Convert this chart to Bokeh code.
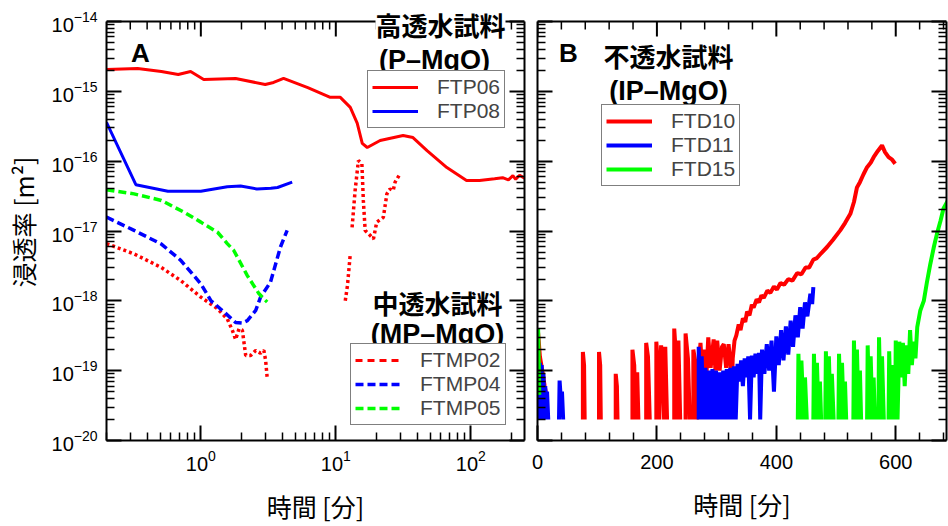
from bokeh.plotting import figure
from bokeh.models import (FixedTicker, LogAxis, Label, Legend, LegendItem,
                          CustomJSTickFormatter, Range1d, Span)
from bokeh.layouts import row
from bokeh.embed import file_html
from bokeh.resources import INLINE

nan = float("nan")
F = 2e-20  # lower limit where the noisy records bottom out

# ---------------- Panel A: time [min] (log) vs permeability [m2] ----------------
FTP06 = [(0.2, 2.05e-15), (0.34, 2.12e-15), (0.51, 1.92e-15), (0.68, 1.74e-15), (0.84, 1.92e-15),
         (1.05, 1.48e-15), (1.81, 1.53e-15), (3.0, 1.25e-15), (3.46, 1.34e-15), (4.1, 1.53e-15),
         (6.2, 1.13e-15), (9.1, 8.2e-16), (10.8, 8.2e-16), (12.8, 5.9e-16), (14.4, 3.5e-16),
         (15.7, 1.8e-16), (17.1, 1.57e-16), (21.3, 1.98e-16), (31.5, 2.33e-16), (37.3, 2.18e-16),
         (47.4, 1.42e-16), (66.5, 8.1e-17), (93, 5.3e-17), (116, 5.3e-17), (150, 5.6e-17),
         (172, 5.8e-17), (190, 5.4e-17), (205, 6.2e-17), (215, 5.5e-17), (230, 6.3e-17), (250, 5.7e-17)]
FTP08 = [(0.2, 3.6e-16), (0.33, 4.6e-17), (0.57, 3.7e-17), (1.0, 3.7e-17), (1.57, 4.3e-17),
         (1.97, 4.4e-17), (2.6, 4.0e-17), (3.3, 4.1e-17), (3.7, 4.2e-17), (4.75, 5.0e-17)]
FTMP02 = [(0.2, 6.6e-18), (0.32, 4.7e-18), (0.51, 3.0e-18), (0.71, 1.95e-18), (1.0, 1.13e-18),
          (1.33, 7.7e-19), (1.57, 5.5e-19), (1.71, 3.8e-19), (1.81, 2.8e-19), (1.92, 4.0e-19),
          (2.03, 3.8e-19), (2.15, 1.65e-19), (2.34, 1.65e-19), (2.55, 1.95e-19), (2.77, 1.78e-19),
          (2.93, 1.95e-19), (3.02, 1.4e-19), (3.1, 8.0e-20), (nan, nan),
          (11.75, 1.0e-18), (12.2, 1.66e-18), (12.8, 4.7e-18), (nan, nan),
          (13.2, 1.13e-17), (13.9, 3.8e-17), (14.7, 1.02e-16), (15.6, 9.2e-17), (16.0, 2.7e-17),
          (16.5, 1.02e-17), (18.0, 8.6e-18), (19.0, 7.7e-18), (20.1, 1.34e-17), (22.5, 1.57e-17),
          (23.9, 3.4e-17), (25.2, 4.0e-17), (26.6, 3.8e-17), (27.5, 5.0e-17), (29.9, 6.6e-17)]
FTMP04 = [(0.2, 1.58e-17), (0.32, 1.02e-17), (0.51, 6.5e-18), (0.71, 3.8e-18), (1.0, 1.75e-18),
          (1.19, 1.0e-18), (1.49, 6.9e-19), (1.81, 4.9e-19), (2.03, 4.8e-19), (2.21, 5.2e-19),
          (2.55, 7.3e-19), (2.77, 1.13e-18), (3.28, 1.85e-18), (3.89, 5.9e-18), (4.36, 1.02e-17)]
FTMP05 = [(0.2, 3.9e-17), (0.32, 3.4e-17), (0.51, 2.74e-17), (0.75, 1.86e-17), (1.0, 1.34e-17),
          (1.33, 9.6e-18), (1.57, 6.6e-18), (1.75, 5.3e-18), (2.21, 2.3e-18), (2.69, 1.27e-18),
          (3.1, 9.6e-19)]

# ---------------- Panel B: time [min] (linear) vs permeability [m2] ----------------
FTD10 = [(1, 3.5e-19), (4, 1.6e-19), (8, 1.0e-19), (12, 6e-20), (16, 4e-20), (nan, nan),
         (76, F), (76, 1.85e-19), (78, 1.2e-19), (79, F), (nan, nan),
         (103, F), (103, 1.85e-19), (105, 1.2e-19), (106, F), (nan, nan),
         (131, F), (131, 9e-20), (133, 6e-20), (134, F), (nan, nan),
         (159, F), (159, 2.0e-19), (162, 1.2e-19), (164, F), (nan, nan),
         (167, F), (167, 9.5e-20), (169, F), (nan, nan),
         (182, F), (182, 2.5e-19), (185, 1.6e-19), (188, F), (nan, nan),
         (199, F), (199, 2.6e-19), (202, 1.1e-19), (204, F), (207, 2.3e-19), (210, 1.2e-19),
         (212, F), (214, 2.2e-19), (217, F), (nan, nan),
         (229, F), (229, 4.0e-19), (232, 1.6e-19), (234, F), (236, 2.7e-19), (239, F), (nan, nan),
         (248, F), (248, 3.4e-19), (252, 1.5e-19), (255, F), (nan, nan),
         (261, F), (261, 2.0e-19), (264, 1.4e-19), (267, F), (270, 1.2e-19), (273, 2.5e-19),
         (276, 9e-20), (280, 2.0e-19), (283, 9e-20), (286, 3.0e-19), (290, 1.1e-19), (295, 2.8e-19),
         (298, 1.0e-19), (301, 2.7e-19), (305, 1.0e-19), (309, 2.2e-19), (312, 2.4e-19),
         (316, 1.1e-19), (320, 2.4e-19), (323, 1.3e-19), (325, 4.7e-20), (327, 1.5e-19),
         (330, 2.7e-19), (333, 3.2e-19), (337, 4.6e-19), (340, 3.8e-19), (344, 5.6e-19),
         (348, 5.0e-19), (351, 7.0e-19), (355, 6.2e-19), (359, 8.8e-19), (362, 8.0e-19),
         (367, 1.05e-18), (371, 9.5e-19), (375, 1.2e-18), (379, 1.1e-18), (385, 1.4e-18),
         (390, 1.3e-18), (396, 1.6e-18), (401, 1.45e-18), (407, 1.8e-18), (413, 1.7e-18),
         (420, 2.05e-18), (427, 1.95e-18), (435, 2.5e-18), (442, 2.4e-18), (449, 3.0e-18),
         (455, 3.0e-18), (462, 3.9e-18), (468, 4.1e-18), (475, 4.8e-18), (485, 5.9e-18),
         (495, 7.5e-18), (507, 1.02e-17), (515, 1.3e-17), (524, 1.76e-17), (530, 2.6e-17),
         (535, 4.2e-17), (540, 5.0e-17), (546, 6.5e-17), (552, 8.2e-17), (558, 9.5e-17),
         (563, 1.14e-16), (570, 1.4e-16), (577, 1.68e-16), (582, 1.35e-16), (588, 1.14e-16),
         (594, 1.05e-16), (599, 9.2e-17)]
FTD11 = [(1, F), (1, 1.0e-19), (3, F), (4, 1.3e-19), (6, F), (7, 1.2e-19), (9, F), (10, 9e-20),
         (12, F), (13, 6e-20), (15, F), (16, 5e-20), (18, F), (nan, nan),
         (36, F), (37, 7.2e-20), (39, 4e-20), (41, 5e-20), (43, F), (nan, nan),
         (270, F), (270, 2.2e-19), (273, F), (275, 1.6e-19), (278, F), (281, 1.1e-19), (284, F),
         (287, 1.0e-19), (290, F), (293, 1.05e-19), (296, F), (299, 1.0e-19), (302, F),
         (305, 9.5e-20), (308, F), (311, 1.0e-19), (314, F), (317, 1.05e-19), (320, F),
         (323, 1.1e-19), (326, F), (329, 1.15e-19), (332, F), (335, 1.25e-19), (338, 7e-20),
         (341, 1.4e-19), (344, 6e-20), (347, 1.5e-19), (350, 8e-20), (353, 1.6e-19), (356, F),
         (359, 1.65e-19), (362, 8e-20), (365, 1.75e-19), (368, 9e-20), (371, 1.8e-19), (373, F),
         (376, 2.0e-19), (380, 9e-20), (384, 2.4e-19), (388, 1.0e-19), (392, 2.7e-19), (396, 5e-20),
         (400, 3.1e-19), (404, 1.2e-19), (408, 3.8e-19), (412, 1.4e-19), (416, 4.3e-19),
         (420, 1.7e-19), (424, 5.2e-19), (428, 2.2e-19), (432, 6.2e-19), (436, 3.0e-19),
         (440, 8.1e-19), (444, 4.0e-19), (448, 9.5e-19), (452, 6.0e-19), (457, 1.26e-18),
         (460, 9e-19), (462, 1.57e-18)]
FTD15 = [(1, 4e-19), (2, 1.5e-19), (3, 4.5e-20), (nan, nan),
         (436, F), (437, 1.75e-19), (440, F), (442, 1.4e-19), (446, F), (448, 8e-20), (451, F), (nan, nan),
         (462, F), (463, 1.75e-19), (466, F), (468, 1.3e-19), (471, F), (473, 7e-20), (475, F), (nan, nan),
         (482, F), (483, 1.9e-19), (486, F), (488, 1.6e-19), (491, F), (493, 9e-20), (496, F), (nan, nan),
         (504, F), (505, 1.75e-19), (508, F), (510, 1.3e-19), (513, F), (515, 7e-20), (517, F), (nan, nan),
         (529, F), (530, 2.7e-19), (533, F), (535, 2.0e-19), (538, F), (540, 1.0e-19), (542, F), (nan, nan),
         (552, F), (553, 2.3e-19), (556, F), (558, 1.6e-19), (561, F), (563, 8e-20), (565, F), (nan, nan),
         (571, F), (572, 3.0e-19), (575, F), (577, 1.6e-19), (580, F), (nan, nan),
         (588, F), (589, 1.9e-19), (592, F), (594, 1.2e-19), (597, F), (nan, nan),
         (599, F), (600, 2.7e-19), (603, F), (606, 2.6e-19), (609, 8e-20), (612, 2.5e-19),
         (615, 6e-20), (618, 2.3e-19), (621, 9e-20), (624, 3.8e-19), (627, 1.2e-19), (630, 2.6e-19),
         (633, 1.5e-19), (636, 4.2e-19), (641, 7.2e-19), (647, 1.0e-18), (652, 1.8e-18),
         (658, 3.4e-18), (664, 6.0e-18), (669, 9.1e-18), (675, 1.4e-17), (680, 2.1e-17),
         (690, 3.0e-17)]

X_RANGE_A = (0.2, 250)
X_RANGE_B = (0, 685)
Y_RANGE = (1e-20, 1e-14)

RED, BLUE, GREEN = "#ff0000", "#0000ff", "#00ff00"
LATIN = "Liberation Sans"
CJK = "Noto Sans CJK JP"

# ---------------- layout geometry (pixels) ----------------
H = 526
TOP, BOTTOM = 21, 86              # box top (y of 1e-14) / bottom border
FRAME_H = H - TOP - BOTTOM
DECADE_PX = FRAME_H / 6.0         # pixels per decade on the y axes
F_TOP = 3                         # frames reach higher so titles can straddle the box edge
Y_TOP = 10 ** (-14 + (TOP - F_TOP) / DECADE_PX)


def xy(pairs):
    return [p[0] for p in pairs], [p[1] for p in pairs]


# ticks
y_major = [10.0 ** e for e in range(-20, -13)]
y_minor = [m * 10.0 ** e for e in range(-20, -14) for m in range(2, 10)]
xa_major = [1, 10, 100]
xa_minor = [m * 10.0 ** e for e in range(-1, 3) for m in range(2, 10)
            if X_RANGE_A[0] <= m * 10.0 ** e <= X_RANGE_A[1]]
xb_major = [0, 200, 400, 600]
xb_minor = [v for v in range(40, 700, 40) if v % 200]

MAJOR_LEN, MINOR_LEN = 15, 8


def style_axis(ax, labels=True, standoff=9):
    ax.axis_line_width = 2
    ax.axis_line_color = "black"
    ax.major_tick_in = MAJOR_LEN
    ax.major_tick_out = 0
    ax.minor_tick_in = MINOR_LEN
    ax.minor_tick_out = 0
    ax.major_tick_line_width = 2
    ax.minor_tick_line_width = 1.5
    ax.major_tick_line_color = "black"
    ax.minor_tick_line_color = "black"
    ax.major_label_text_font = LATIN
    ax.major_label_text_font_size = "20px"
    ax.major_label_text_color = "black"
    ax.major_label_standoff = standoff
    ax.axis_label_text_font = CJK
    ax.axis_label_text_font_size = "25px"
    ax.axis_label_text_font_style = "normal"
    ax.axis_label_text_color = "black"
    if not labels:
        ax.formatter = CustomJSTickFormatter(code="return ''")
        ax.major_label_standoff = 0
        ax.major_label_text_font_size = "1px"


def make_fig(width, xtype, xr, mb_left, mb_right):
    p = figure(width=width, height=H, x_axis_type=xtype, y_axis_type="log",
               x_range=Range1d(*xr), y_range=Range1d(Y_RANGE[0], Y_TOP),
               output_backend="svg", toolbar_location=None,
               min_border_left=mb_left, min_border_right=mb_right,
               min_border_top=F_TOP, min_border_bottom=BOTTOM)
    p.title.visible = False
    p.title_location = None
    p.xgrid.visible = False
    p.ygrid.visible = False
    p.outline_line_color = None
    p.background_fill_color = "white"
    p.border_fill_color = "white"
    return p


def box_top(p, major, minor):
    """Top edge of the box at 1e-14 with inward tick marks at the x ticks."""
    p.add_layout(Span(location=Y_RANGE[1], dimension="width", line_color="black", line_width=2))
    maj_len = 10 ** (-MAJOR_LEN / DECADE_PX)
    min_len = 10 ** (-MINOR_LEN / DECADE_PX)
    p.segment(x0=major, x1=major, y0=[Y_RANGE[1]] * len(major),
              y1=[Y_RANGE[1] * maj_len] * len(major), line_color="black", line_width=2)
    p.segment(x0=minor, x1=minor, y0=[Y_RANGE[1]] * len(minor),
              y1=[Y_RANGE[1] * min_len] * len(minor), line_color="black", line_width=1.5)


def add_label(p, x, y, text, font, size, bg=False):
    lab = Label(x=x, y=y, x_units="screen", y_units="screen", text=text,
                text_font=font, text_font_size=size, text_font_style="bold",
                text_align="center", text_baseline="middle", text_color="black")
    if bg:
        lab.background_fill_color = "white"
        lab.background_fill_alpha = 1.0
    p.add_layout(lab)


def make_legend(items, loc):
    return Legend(items=items, location=loc, orientation="vertical",
                  border_line_color="black", border_line_width=1.5,
                  background_fill_color="white", background_fill_alpha=1.0,
                  label_text_font=LATIN, label_text_font_size="21px",
                  glyph_width=46, glyph_height=24, label_height=24,
                  label_standoff=19, padding=4, spacing=0, margin=0)


y_tick = FixedTicker(ticks=y_major, minor_ticks=y_minor)

# ---------------- Panel A ----------------
p1 = make_fig(530, "log", X_RANGE_A, 106, 6)
xa_tick = FixedTicker(ticks=xa_major, minor_ticks=xa_minor)
p1.xaxis[0].ticker = xa_tick
p1.yaxis[0].ticker = y_tick
p1.yaxis[0].bounds = Y_RANGE
style_axis(p1.xaxis[0], standoff=9)
style_axis(p1.yaxis[0], standoff=9)
p1.xaxis[0].axis_label = "時間 [分]"
p1.xaxis[0].axis_label_standoff = 14
p1.yaxis[0].axis_label = "浸透率 [m²]"
p1.yaxis[0].axis_label_standoff = 8
right1 = LogAxis(ticker=y_tick, bounds=Y_RANGE)
style_axis(right1, labels=False)
p1.add_layout(right1, "right")
box_top(p1, xa_major, xa_minor)

x, y = xy(FTP06)
r06 = p1.line(x, y, line_color=RED, line_width=3)
x, y = xy(FTP08)
r08 = p1.line(x, y, line_color=BLUE, line_width=3)
x, y = xy(FTMP02)
p1.line(x, y, line_color=RED, line_width=3.5, line_dash="3 3")
# legend key for FTMP02 (drawn dashed in the key, as in the original)
rmp02 = p1.line([nan], [nan], line_color=RED, line_width=3, line_dash="7 5")
x, y = xy(FTMP04)
rmp04 = p1.line(x, y, line_color=BLUE, line_width=3.5, line_dash="8 4")
x, y = xy(FTMP05)
rmp05 = p1.line(x, y, line_color=GREEN, line_width=3.5, line_dash="8 4")

p1.add_layout(make_legend([LegendItem(label="FTP06", renderers=[r06]),
                           LegendItem(label="FTP08", renderers=[r08])], (261, 312)))
p1.add_layout(make_legend([LegendItem(label="FTMP02", renderers=[rmp02]),
                           LegendItem(label="FTMP04", renderers=[rmp04]),
                           LegendItem(label="FTMP05", renderers=[rmp05])], (244, 15)))

add_label(p1, 34, 388, "A", LATIN, "26px")
add_label(p1, 334, 416, "高透水試料", CJK, "26px", bg=True)
add_label(p1, 328, 381, "(P–MgO)", LATIN, "27px")
add_label(p1, 331, 138, "中透水試料", CJK, "26px")
add_label(p1, 331, 107, "(MP–MgO)", LATIN, "27px")

# ---------------- Panel B ----------------
p2 = make_fig(418, "linear", X_RANGE_B, 7, 2)
xb_tick = FixedTicker(ticks=xb_major, minor_ticks=xb_minor)
p2.xaxis[0].ticker = xb_tick
p2.yaxis[0].ticker = y_tick
p2.yaxis[0].bounds = Y_RANGE
style_axis(p2.xaxis[0], standoff=14)
style_axis(p2.yaxis[0], labels=False)
p2.xaxis[0].axis_label = "時間 [分]"
p2.xaxis[0].axis_label_standoff = 14
right2 = LogAxis(ticker=y_tick, bounds=Y_RANGE)
style_axis(right2, labels=False)
p2.add_layout(right2, "right")
box_top(p2, xb_major, xb_minor)

x, y = xy(FTD10)
rd10 = p2.line(x, y, line_color=RED, line_width=4)
x, y = xy(FTD11)
rd11 = p2.line(x, y, line_color=BLUE, line_width=4)
x, y = xy(FTD15)
rd15 = p2.line(x, y, line_color=GREEN, line_width=4)

p2.add_layout(make_legend([LegendItem(label="FTD10", renderers=[rd10]),
                           LegendItem(label="FTD11", renderers=[rd11]),
                           LegendItem(label="FTD15", renderers=[rd15])], (64, 254)))

add_label(p2, 31, 388, "B", LATIN, "26px")
add_label(p2, 131, 385, "不透水試料", CJK, "26px")
add_label(p2, 131, 350, "(IP–MgO)", LATIN, "27px")

layout = row(p1, p2)
open("out.html", "w").write(file_html(layout, INLINE))
